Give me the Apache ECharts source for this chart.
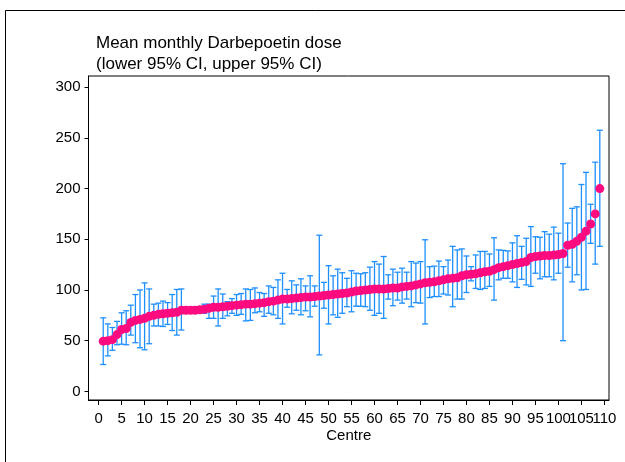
<!DOCTYPE html>
<html>
<head>
<meta charset="utf-8">
<script src="https://cdn.jsdelivr.net/npm/echarts@6/dist/echarts.min.js"></script>
<style>
html,body{margin:0;padding:0;background:#fff;}
#chart{width:625px;height:462px;}
</style>
</head>
<body>
<div id="chart"></div>
<script>
const centres = [1,2,3,4,5,6,7,8,9,10,11,12,13,14,15,16,17,18,19,20,21,22,23,24,25,26,27,28,29,30,31,32,33,34,35,36,37,38,39,40,41,42,43,44,45,46,47,48,49,50,51,52,53,54,55,56,57,58,59,60,61,62,63,64,65,66,67,68,69,70,71,72,73,74,75,76,77,78,79,80,81,82,83,84,85,86,87,88,89,90,91,92,93,94,95,96,97,98,99,100,101,102,103,104,105,106,107,108,109];
const meanDose = [49.5,50,51,56,61,62,68,70,71,72,74,75,76,76.5,77,77.5,78,80,80,80,80,80.5,81,82,83,83,83.5,84,84.5,85,85.5,86,86,86.5,87,87.5,88.5,89,90,91,91,91.5,92,92.5,93,93,93.5,94,94.5,95,95.5,96,96.5,97,98,99,99.5,100,100.5,101,101,101,101.5,102,102,103,103.5,104,105,106,107,107.5,108,109,110,111,111.5,112,114,115,115.5,116,117,118,118.5,120,122,123,124,125,126,127,128,132,133,133.5,134,134,134.5,135,136,144,145,148,152,158,165,175,200];
const lowerCI = [26.5,35,40.5,46,46.5,46,55.5,48,43,41,47,64.5,64.5,64,66,60,55.5,60.5,77,77,77.5,78,77,72,72,64.5,72,74.5,77,75,76,69.5,70,77.5,78.5,74,77,75.5,72,66.5,83,76.5,80,75.5,79.5,73.5,84,36,82,66.5,75.5,73,77,83.5,78.5,84,84,83.5,80,75,77,72,91,84.5,90,87,91,83.5,87.5,87,66.5,92.5,93.5,93.5,96,95,83.5,91,91,97.5,109,101.5,100.5,101.5,103.5,90,110,111.5,111.5,108,102.5,110.5,105,103.5,116.5,111,113,113,110,116.5,50,122.5,108,115,100,100.5,146,125.5,143];
const upperCI = [72.5,66.5,63,69,77.5,79.5,85,95.5,100,107,101,86,87,89,87.5,95.5,100.5,101,83,83,83,83,86,86,94,101,96,88.5,91.5,95.5,96.5,101,100.5,102,97.5,96.5,104,102.5,110,116.5,100.5,109,105,111,104,114,104,154,107.5,124,114,120.5,117,111.5,119,116.5,116,117,122.5,128,125.5,133,115,120.5,117.5,121.5,117.5,128,126.5,128,149.5,123,123.5,128.5,123,129.5,143,139.5,140.5,133.5,123,134.5,138,138,135.5,151.5,139.5,139,138.5,146.5,153.5,143,151,162.5,152.5,152,157.5,155,162,156,224.5,166,180.5,182,204,216,184.5,226,257.5];
const xTicks = [0,5,10,15,20,25,30,35,40,45,50,55,60,65,70,75,80,85,90,95,100,105,110];
const xLabelsMain = [0,5,10,15,20,25,30,35,40,45,50,55,60,65,70,75,80,85,90,95,100,110];
const xLabelsExtra = [105];
const yTicks = [0,50,100,150,200,250,300];

const barData = centres.map((c, i) => [c, lowerCI[i], upperCI[i]]);
const pointData = centres.map((c, i) => [c, meanDose[i]]);

const chart = echarts.init(document.getElementById('chart'), null, {renderer: 'canvas'});
const FONT = 'Arial, "Liberation Sans", sans-serif';
const labelStyle = {fontFamily: FONT, fontSize: 15, color: '#000', margin: 11, hideOverlap: false};
chart.setOption({
  animation: false,
  backgroundColor: '#fff',
  title: {
    text: 'Mean monthly Darbepoetin dose\n(lower 95% CI, upper 95% CI)',
    left: 91, top: 28,
    textStyle: {fontFamily: FONT, fontSize: 17, fontWeight: 'normal', color: '#000', lineHeight: 21}
  },
  graphic: [
    {type: 'line', shape: {x1: 5.5, y1: 10.5, x2: 625, y2: 10.5}, style: {stroke: '#000', lineWidth: 1}},
    {type: 'line', shape: {x1: 5.5, y1: 10.5, x2: 5.5, y2: 462}, style: {stroke: '#000', lineWidth: 1}}
  ],
  grid: {left: 88.5, top: 76, right: 16, bottom: 62, show: true, borderColor: '#000', borderWidth: 1, backgroundColor: 'transparent'},
  xAxis: [{
    type: 'value', min: -2.2, max: 111, position: 'bottom',
    name: 'Centre', nameLocation: 'middle', nameGap: 28, nameMoveOverlap: false,
    nameTextStyle: {fontFamily: FONT, fontSize: 15, color: '#000'},
    axisLine: {show: true, onZero: false, lineStyle: {color: '#000', width: 1}},
    axisTick: {show: true, length: 5, lineStyle: {color: '#000'}, customValues: xTicks},
    axisLabel: Object.assign({customValues: xLabelsMain, showMaxLabel: true, showMinLabel: true}, labelStyle),
    splitLine: {show: false}
  }, {
    type: 'value', min: -2.2, max: 111, position: 'bottom', offset: 0,
    axisLine: {show: false, onZero: false},
    axisTick: {show: false},
    axisLabel: Object.assign({customValues: xLabelsExtra, showMaxLabel: true, showMinLabel: true}, labelStyle),
    splitLine: {show: false}
  }],
  yAxis: {
    type: 'value', min: -8.5, max: 311,
    axisLine: {show: true, onZero: false, lineStyle: {color: '#000', width: 1}},
    axisTick: {show: true, length: 4, lineStyle: {color: '#000'}, customValues: yTicks},
    axisLabel: {fontFamily: FONT, fontSize: 15, color: '#000', margin: 8, customValues: yTicks},
    splitLine: {show: false}
  },
  series: [
    {
      type: 'custom',
      data: barData,
      xAxisIndex: 0,
      encode: {x: 0, y: [1, 2]},
      z: 2,
      renderItem: function (params, api) {
        const x = api.value(0);
        const lo = api.coord([x, api.value(1)]);
        const hi = api.coord([x, api.value(2)]);
        const hw = 3;
        const st = {stroke: '#1e8fff', lineWidth: 1.3};
        return {
          type: 'group',
          children: [
            {type: 'line', shape: {x1: lo[0], y1: lo[1], x2: hi[0], y2: hi[1]}, style: st},
            {type: 'line', shape: {x1: hi[0] - hw, y1: hi[1], x2: hi[0] + hw, y2: hi[1]}, style: st},
            {type: 'line', shape: {x1: lo[0] - hw, y1: lo[1], x2: lo[0] + hw, y2: lo[1]}, style: st}
          ]
        };
      }
    },
    {
      type: 'scatter',
      data: pointData,
      xAxisIndex: 0,
      symbol: 'circle',
      symbolSize: 9,
      z: 3,
      itemStyle: {color: '#ff0a7f', opacity: 1}
    }
  ]
});
</script>
</body>
</html>
